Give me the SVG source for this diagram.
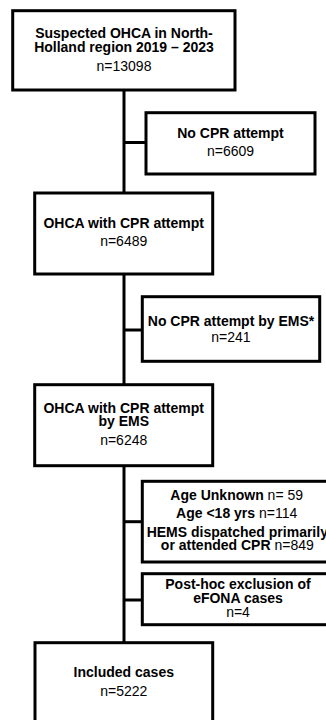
<svg xmlns="http://www.w3.org/2000/svg" width="326" height="720" viewBox="0 0 326 720">
<style>
  .box { fill: #ffffff; stroke: #000000; stroke-width: 3; }
  .conn { fill: none; stroke: #000000; stroke-width: 3; }
  text { font-family: "Liberation Sans", Arial, sans-serif; font-size: 14px; fill: #000000; text-anchor: middle; }
  .b { font-weight: bold; }
</style>
<rect x="0" y="0" width="326" height="720" fill="#ffffff"/>
<g id="connectors">
  <line class="conn" x1="124" y1="90" x2="124" y2="643"/>
  <line class="conn" x1="124" y1="142.5" x2="146" y2="142.5"/>
  <line class="conn" x1="124" y1="330" x2="142.3" y2="330"/>
  <line class="conn" x1="124" y1="521.7" x2="142.3" y2="521.7"/>
  <line class="conn" x1="124" y1="600" x2="142.3" y2="600"/>
</g>
<g id="suspected">
  <rect class="box" x="12.7" y="10.7" width="222.3" height="79.3"/>
  <text class="b" x="124" y="37.7">Suspected OHCA in North-</text>
  <text class="b" x="124" y="51.7">Holland region 2019 – 2023</text>
  <text x="124" y="71">n=13098</text>
</g>
<g id="no-cpr">
  <rect class="box" x="146" y="112.7" width="169" height="61.3"/>
  <text class="b" x="230.5" y="137.7">No CPR attempt</text>
  <text x="230.5" y="156">n=6609</text>
</g>
<g id="cpr-attempt">
  <rect class="box" x="34.7" y="193" width="178" height="81"/>
  <text class="b" x="123.7" y="228.3">OHCA with CPR attempt</text>
  <text x="123.7" y="245.7">n=6489</text>
</g>
<g id="no-cpr-ems">
  <rect class="box" x="142.3" y="296.7" width="177.4" height="64.6"/>
  <text class="b" x="231" y="326">No CPR attempt by EMS*</text>
  <text x="231" y="341.7">n=241</text>
</g>
<g id="cpr-ems">
  <rect class="box" x="34.7" y="384.7" width="178" height="81"/>
  <text class="b" x="123.7" y="413.3">OHCA with CPR attempt</text>
  <text class="b" x="123.7" y="426">by EMS</text>
  <text x="123.7" y="445">n=6248</text>
</g>
<g id="exclusions">
  <rect class="box" x="142.3" y="481.3" width="200" height="80.7"/>
  <text x="236.7" y="500"><tspan class="b">Age Unknown</tspan> n= 59</text>
  <text x="236.7" y="518.3"><tspan class="b">Age &lt;18 yrs</tspan> n=114</text>
  <text class="b" x="237.3" y="536.7">HEMS dispatched primarily</text>
  <text x="237.3" y="550"><tspan class="b">or attended CPR</tspan> n=849</text>
</g>
<g id="efona">
  <rect class="box" x="142.3" y="573.7" width="200" height="51"/>
  <text class="b" x="238" y="589.3">Post-hoc exclusion of</text>
  <text class="b" x="238" y="603.3">eFONA cases</text>
  <text x="238" y="616.7">n=4</text>
</g>
<g id="included">
  <rect class="box" x="35" y="642.7" width="177.7" height="100"/>
  <text class="b" x="123.8" y="677.3">Included cases</text>
  <text x="123.8" y="696">n=5222</text>
</g>
</svg>
